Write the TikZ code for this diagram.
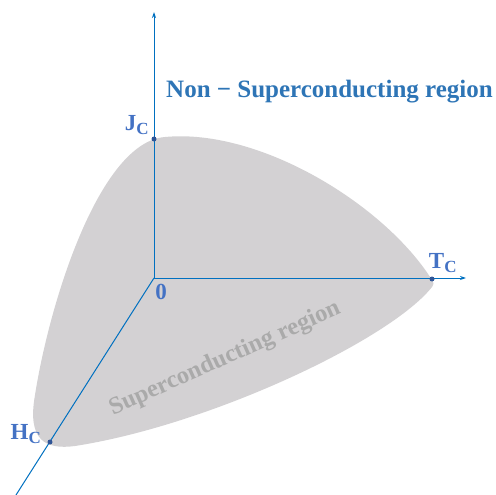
\documentclass[tikz,border=0pt]{standalone}
\usepackage{fontspec}
\setmainfont{Liberation Serif}
\usetikzlibrary{arrows.meta}
\definecolor{axisblue}{RGB}{0,112,192}
\definecolor{lblblue}{RGB}{68,114,196}
\definecolor{txtblue}{RGB}{46,117,182}
\definecolor{dotblue}{RGB}{47,85,151}
\definecolor{regiongray}{RGB}{211,209,211}
\definecolor{textgray}{RGB}{170,170,170}
\tikzset{
  axisline/.style={axisblue, line width=1pt},
  axisarrow/.style={axisline, -{Stealth[length=6pt,width=4pt]}},
  pointdot/.style={circle, fill=dotblue, inner sep=0pt, minimum size=5pt},
  axlabel/.style={lblblue, font=\bfseries\fontsize{23}{26}\selectfont, inner sep=1pt},
}
\newcommand{\subC}{\textsubscript{\fontsize{17}{17}\selectfont C}}
\begin{document}
\begin{tikzpicture}[x=1pt,y=-1pt]
\useasboundingbox (0,0) rectangle (496,495);
% region
\fill[regiongray] (432,280) .. controls (385,205) and (260,128) .. (165,137)
  .. controls (100,142) and (50,300) .. (35,395)
  .. controls (27,440) and (45,450) .. (75,446)
  .. controls (210,425) and (390,340) .. (432,287)
  .. controls (434,284) and (434,282) .. (432,280) -- cycle;
\node[textgray, rotate=24, font=\bfseries\fontsize{24.5}{28}\selectfont] (sc) at (225,359) {Superconducting region};
% axes
\coordinate (O) at (154,278);
\coordinate (ytop) at (154,12);
\coordinate (xend) at (466,278);
\coordinate (zend) at (16,495);
\draw[axisarrow] (O) -- (ytop);
\draw[axisarrow] (O) -- (xend);
\draw[axisline] (O) -- (zend);
% points
\node[pointdot] (jc) at (154,139) {};
\node[pointdot] (tc) at (432,279) {};
\node[pointdot] (hc) at (50,442) {};
% labels
\node[axlabel] (jcl) at (137,125) {J\subC};
\node[axlabel] (tcl) at (443,263) {T\subC};
\node[axlabel] (hcl) at (26,434) {H\subC};
\node[axlabel] (ol) at (161,292) {0};
\node[txtblue, font=\bfseries\fontsize{25}{30}\selectfont, anchor=west, inner sep=0pt] (nsc) at (166,92) {Non − Superconducting region};
\end{tikzpicture}
\end{document}
